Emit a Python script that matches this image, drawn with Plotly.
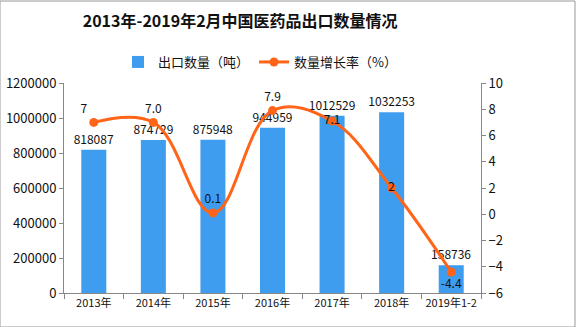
import plotly.graph_objects as go

categories = ["2013年", "2014年", "2015年", "2016年", "2017年", "2018年", "2019年1-2"]
export_qty = [818087, 874729, 875948, 944959, 1012529, 1032253, 158736]
growth = [7, 7.0, 0.1, 7.9, 7.1, 2, -4.4]
growth_labels = ["7", "7.0", "0.1", "7.9", "7.1", "2", "-4.4"]
growth_pos = ["top left", "top center", "top center", "top center", "middle center", "middle center", "bottom center"]

FONT = "Noto Sans CJK SC"
fig = go.Figure()
fig.add_trace(go.Bar(
    x=categories, y=export_qty, name="出口数量（吨）",
    marker=dict(color="#3F9DF0", line=dict(width=0)), width=0.42,
    text=[str(v) for v in export_qty], textposition="outside", constraintext="none",
    textfont=dict(size=12, color="#111", family=FONT), cliponaxis=False,
))
fig.add_trace(go.Scatter(
    x=categories, y=growth, name="数量增长率（%）", yaxis="y2",
    mode="lines+markers+text", line=dict(color="#FF6418", width=3, shape="spline", smoothing=1.1),
    marker=dict(color="#FF6418", size=9),
    text=growth_labels, textposition=growth_pos,
    textfont=dict(size=12, color="#111", family=FONT), cliponaxis=False,
))
fig.update_layout(
    width=576, height=327, margin=dict(l=64, r=95, t=83, b=34, autoexpand=False),
    paper_bgcolor="white", plot_bgcolor="white",
    font=dict(family=FONT, size=12, color="#111"),
    title=dict(text="<b>2013年-2019年2月中国医药品出口数量情况</b>", x=0.417, xanchor="center",
               y=0.935, yanchor="middle", font=dict(size=16, color="#111")),
    showlegend=True,
    legend=dict(orientation="h", x=0.47, xanchor="center", y=1.10, yanchor="middle",
                font=dict(size=13), itemwidth=30, bgcolor="rgba(0,0,0,0)", traceorder="normal"),
    xaxis=dict(showline=True, linecolor="#888", ticks="outside", tickson="boundaries",
               ticklen=5, tickcolor="#888", showgrid=False, tickfont=dict(size=11),
               tickangle=0, automargin=False),
    yaxis=dict(range=[0, 1200000], dtick=200000, showline=True, linecolor="#888",
               ticks="outside", ticklen=4, tickcolor="#888", showgrid=False,
               tickformat="d", tickfont=dict(size=13), zeroline=False, automargin=False),
    yaxis2=dict(range=[-6, 10], dtick=2, overlaying="y", side="right", showline=True,
                linecolor="#888", ticks="outside", ticklen=4, tickcolor="#888",
                showgrid=False, zeroline=False, tickfont=dict(size=13), automargin=False),
    shapes=[dict(type="rect", xref="paper", yref="paper", x0=-64/417, x1=(576-64-1)/417,
                 y0=-34/210, y1=(327-34-1)/210, line=dict(color="#999", width=1))],
)
fig.write_html("out.html")
